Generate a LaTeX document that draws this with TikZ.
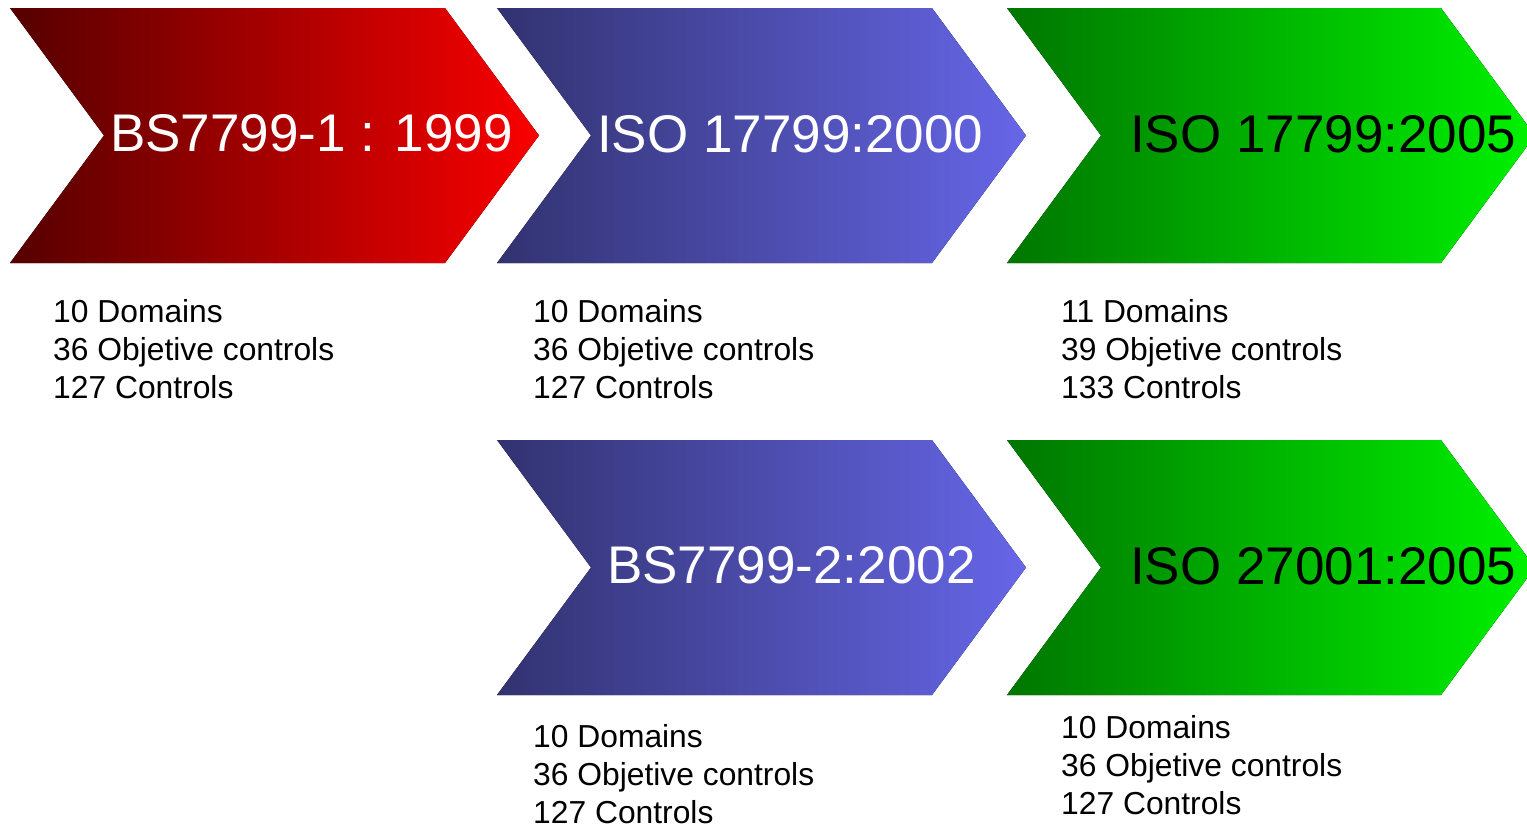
\documentclass[tikz,border=0pt]{standalone}
\usepackage{fontspec}
\setmainfont{Liberation Sans}
\definecolor{redA}{RGB}{85,0,0}
\definecolor{redB}{RGB}{250,0,0}
\definecolor{blueA}{RGB}{50,50,112}
\definecolor{blueB}{RGB}{102,102,232}
\definecolor{greenA}{RGB}{0,118,0}
\definecolor{greenB}{RGB}{0,242,0}
\tikzset{
  redfill/.style={left color=redA, right color=redB, draw=none},
  bluefill/.style={left color=blueA, right color=blueB, draw=none},
  greenfill/.style={left color=greenA, right color=greenB, draw=none},
  title/.style={anchor=base west, inner sep=0pt, font=\fontsize{53}{60}\selectfont},
  stats/.style={anchor=north west, inner sep=0pt, align=left,
    font=\fontsize{31.8}{38}\selectfont}
}
% chevron: left x, right x, top y, bottom y
\newcommand{\chevronpath}[4]{%
  (#1,#3) -- (#2,#3) -- ({#2+94},{(#3+#4)/2}) -- (#2,#4) -- (#1,#4)
  -- ({#1+94},{(#3+#4)/2}) -- cycle}
\begin{document}
\begin{tikzpicture}[x=1pt,y=-1pt]
  \useasboundingbox (0,0) rectangle (1527,827);
  \clip (0,0) rectangle (1527,827);

  % upper row
  \fill[redfill]   \chevronpath{10}{445}{8}{263};
  \fill[bluefill]  \chevronpath{497}{932}{8}{263};
  \fill[greenfill] \chevronpath{1007}{1441}{8}{263};
  % lower row
  \fill[bluefill]  \chevronpath{497}{932}{440}{695};
  \fill[greenfill] \chevronpath{1007}{1441}{440}{695};

  % chevron titles
  \node[title, text=white] (t1) at (110,151) {BS7799-1 : 1999};
  \node[title, text=white] (t2) at (597,152) {ISO 17799:2000};
  \node[title, text=black] (t3) at (1130,152) {ISO 17799:2005};
  \node[title, text=white] (t4) at (607,583) {BS7799-2:2002};
  \node[title, text=black] (t5) at (1130,584) {ISO 27001:2005};

  % figures below each chevron
  \node[stats] (s1) at (53,299) {10 Domains\\36 Objetive controls\\127 Controls};
  \node[stats] (s2) at (533,299) {10 Domains\\36 Objetive controls\\127 Controls};
  \node[stats] (s3) at (1061,299) {11 Domains\\39 Objetive controls\\133 Controls};
  \node[stats] (s4) at (533,724) {10 Domains\\36 Objetive controls\\127 Controls};
  \node[stats] (s5) at (1061,715) {10 Domains\\36 Objetive controls\\127 Controls};
\end{tikzpicture}
\end{document}
